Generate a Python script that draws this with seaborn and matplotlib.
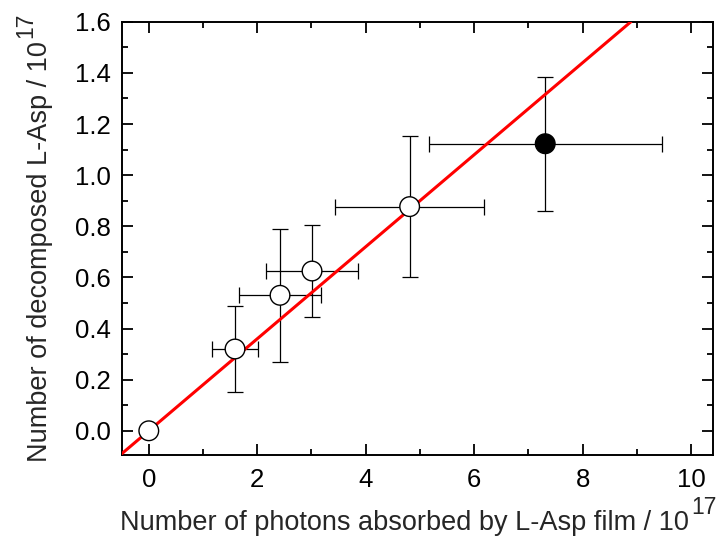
import matplotlib
matplotlib.use("Agg")
import matplotlib.pyplot as plt
import seaborn as sns
import numpy as np
import pandas as pd
from matplotlib.ticker import MultipleLocator, FormatStrFormatter

# data (units of 1e17)
photons = [0.0, 1.59, 2.42, 3.01, 4.81, 7.31]
decomposed = [0.0, 0.32, 0.53, 0.625, 0.877, 1.123]
photons_err = [0.0, 0.43, 0.75, 0.85, 1.38, 2.145]
decomposed_err = [0.0, 0.17, 0.26, 0.18, 0.277, 0.263]
filled = [False, False, False, False, False, True]
fit_slope = 0.18

xlabel_text = "Number of photons absorbed by L-Asp film / 10"
ylabel_text = "Number of decomposed L-Asp / 10"
exponent_text = "17"

df = pd.DataFrame({"x": photons, "y": decomposed, "xerr": photons_err,
                   "yerr": decomposed_err, "filled": filled})

sns.set_theme(style="ticks")
plt.rcParams["font.family"] = ["Liberation Sans", "DejaVu Sans"]

fig = plt.figure(figsize=(7.2, 5.45), dpi=100)
ax = fig.add_axes([0.169, 0.165, 0.821, 0.795])

# error bars
errs = df[df["xerr"] > 0]
ax.errorbar(errs["x"], errs["y"], xerr=errs["xerr"], yerr=errs["yerr"],
            fmt="none", ecolor="black", elinewidth=0.9, capsize=6,
            capthick=0.9, zorder=2)

# fit line
ax.axline((0, 0), slope=fit_slope, color="#ff0000", lw=2.2, zorder=3)

# points
sns.scatterplot(data=df, x="x", y="y", hue="filled",
                palette={False: "white", True: "black"},
                edgecolor="black", linewidth=1.0, s=200, legend=False,
                ax=ax, zorder=4)

ax.set_xlim(-0.5, 10.4)
ax.set_ylim(-0.095, 1.6)
ax.xaxis.set_major_locator(MultipleLocator(2))
ax.xaxis.set_minor_locator(MultipleLocator(1))
ax.yaxis.set_major_locator(MultipleLocator(0.2))
ax.yaxis.set_minor_locator(MultipleLocator(0.1))
ax.yaxis.set_major_formatter(FormatStrFormatter("%.1f"))

ax.tick_params(which="both", direction="in", top=True, right=True,
               width=1.3, colors="black", labelsize=18.5)
ax.tick_params(axis="x", which="major", pad=9)
ax.tick_params(axis="y", which="major", pad=8)
ax.tick_params(which="major", length=8)
ax.tick_params(which="minor", length=4)
for s in ax.spines.values():
    s.set_linewidth(1.4)
    s.set_color("black")

ax.set_xlabel(xlabel_text, fontsize=19.5)
ax.set_ylabel(ylabel_text, fontsize=19.5)
ax.xaxis.set_label_coords(0.478, -0.126)
ax.yaxis.set_label_coords(-0.116, 0.47)

# superscript exponents
ax.annotate(exponent_text, xy=(1, 1), xycoords=ax.xaxis.label,
            xytext=(2, -7), textcoords="offset points",
            ha="left", va="bottom", fontsize=16.5)
ax.annotate(exponent_text, xy=(0, 1), xycoords=ax.yaxis.label,
            xytext=(7, 2), textcoords="offset points",
            ha="right", va="bottom", rotation=90, fontsize=16.5)

fig.savefig("out.png", dpi=100)
